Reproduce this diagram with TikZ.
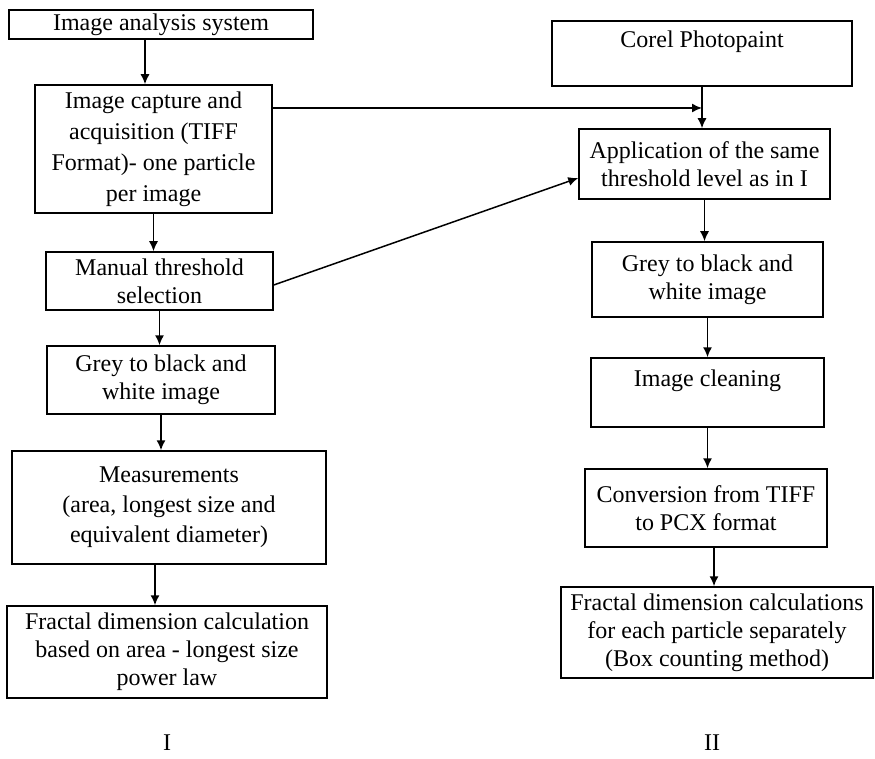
\documentclass[tikz,border=0pt]{standalone}
\usepackage{fontspec}
\setmainfont{Liberation Serif}
\usetikzlibrary{arrows.meta}
\begin{document}
\begin{tikzpicture}[x=1pt,y=-1pt,
  stepbox/.style={draw,line width=1.5pt,inner sep=0pt,align=center,
    font=\fontsize{24}{28}\selectfont},
  arr/.style={line width=1.5pt,-{Latex[length=10pt,width=9pt]}}]
  \useasboundingbox (0,0) rectangle (875,759);
  \node [stepbox,minimum width=304,minimum height=29] (b1) at (161,24.5) {Image analysis system};
  \node [stepbox,minimum width=237,minimum height=128,font=\fontsize{24}{31}\selectfont] (b2) at (153.5,149)
    {Image capture and\\acquisition (TIFF\\Format)- one particle\\per image};
  \node [stepbox,minimum width=227,minimum height=58] (b3) at (159.5,281) {Manual threshold\\selection};
  \node [stepbox,minimum width=228,minimum height=68] (b4) at (161,380) {Grey to black and\\white image};
  \node [stepbox,minimum width=314,minimum height=113,font=\fontsize{24}{30}\selectfont] (b5) at (169,507.5)
    {Measurements\\(area, longest size and\\equivalent diameter)};
  \node [stepbox,minimum width=320,minimum height=92] (b6) at (167,652)
    {Fractal dimension calculation\\based on area - longest size\\power law};
  \node [stepbox,minimum width=300,minimum height=65] (b7) at (702,53.5) {Corel Photopaint\\\mbox{}};
  \node [stepbox,minimum width=251,minimum height=70] (b8) at (704.5,164)
    {Application of the same\\threshold level as in I};
  \node [stepbox,minimum width=231,minimum height=75] (b9) at (707.5,279.5) {Grey to black and\\white image};
  \node [stepbox,minimum width=233,minimum height=69] (b10) at (707.5,392.5) {Image cleaning\\\mbox{}};
  \node [stepbox,minimum width=242,minimum height=78] (b11) at (706,508) {Conversion from TIFF\\to PCX format};
  \node [stepbox,minimum width=312,minimum height=91] (b12) at (717,632.5)
    {Fractal dimension calculations\\for each particle separately\\(Box counting method)};
  \node [font=\fontsize{24}{28}\selectfont] (l1) at (167,743) {I};
  \node [font=\fontsize{24}{28}\selectfont] (l2) at (712,743) {II};
  \draw [arr] ([xshift=-16]b1.south) -- ([xshift=-16]b1.south |- b2.north);
  \draw [arr] (b2.south) -- (b2.south |- b3.north);
  \draw [arr] (b3.south) -- (b3.south |- b4.north);
  \draw [arr] (b4.south) -- (b4.south |- b5.north);
  \draw [arr] ([xshift=-14]b5.south) -- ([xshift=-14]b5.south |- b6.north);
  \draw [arr] (b7.south) -- (b7.south |- b8.north);
  \draw [arr] (b8.south) -- (b8.south |- b9.north);
  \draw [arr] (b9.south) -- (b9.south |- b10.north);
  \draw [arr] (b10.south) -- (b10.south |- b11.north);
  \draw [arr] ([xshift=8]b11.south) -- ([xshift=8]b11.south |- b12.north);
  \draw [arr] ([yshift=41]b2.east) -- ([yshift=41]b2.east -| b7.south);
  \draw [arr] ([yshift=-4]b3.east) -- ([yshift=-14]b8.west);
\end{tikzpicture}
\end{document}
